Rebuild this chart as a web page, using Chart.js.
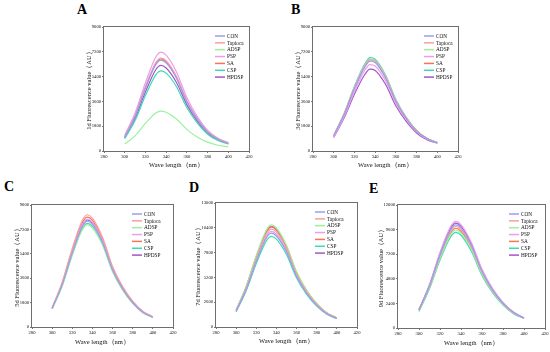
<!DOCTYPE html>
<html><head><meta charset="utf-8">
<script src="https://cdn.jsdelivr.net/npm/chart.js@4.4.1/dist/chart.umd.min.js"></script>
<style>
html,body{margin:0;padding:0;background:#fff;width:550px;height:352px;overflow:hidden;position:relative}
canvas{position:absolute}
.lbl{position:absolute;font:bold 14px 'Liberation Serif',serif;line-height:14px;color:#000}
</style></head><body>
<div class="lbl" style="left:77px;top:2.5px">A</div>
<div class="lbl" style="left:291px;top:2.5px">B</div>
<div class="lbl" style="left:4px;top:179.5px">C</div>
<div class="lbl" style="left:189px;top:180.5px">D</div>
<div class="lbl" style="left:369px;top:182px">E</div>
<script>
// ---------- data ----------
const wavelengths = [300, 310, 320, 330, 335, 340, 350, 360, 370, 380, 390, 400];
const seriesNames = ['CON', 'Tapioca', 'ADSP', 'PSP', 'SA', 'CSP', 'HPDSP'];
const xTicks = [280, 300, 320, 340, 360, 380, 400, 420];

// Day 1 (A)
const d1CON     = [1000, 2500, 4550, 6270, 6600, 6400, 5280, 3560, 2310, 1390, 860, 560];
const d1Tapioca = [1050, 2570, 4660, 6410, 6750, 6550, 5400, 3650, 2360, 1420, 880, 570];
const d1ADSP    = [510, 1100, 2000, 2760, 2900, 2810, 2320, 1570, 1020, 640, 420, 300];
const d1PSP     = [1160, 2760, 4950, 6820, 7180, 6960, 5740, 3880, 2510, 1510, 930, 610];
const d1SA      = [1020, 2530, 4610, 6350, 6680, 6480, 5340, 3610, 2340, 1400, 870, 570];
const d1CSP     = [900, 2210, 4020, 5530, 5820, 5650, 4660, 3140, 2040, 1220, 760, 500];
const d1HPDSP   = [950, 2360, 4280, 5900, 6210, 6020, 4970, 3350, 2170, 1300, 810, 530];
const yTicks1 = [0, 1800, 3600, 5400, 7200, 9000];

// Day 3 (B)
const d3CON     = [1100, 2620, 4520, 6090, 6520, 6420, 5300, 3600, 2360, 1440, 900, 590];
const d3Tapioca = [1110, 2660, 4590, 6180, 6620, 6520, 5390, 3660, 2390, 1460, 910, 600];
const d3ADSP    = [1120, 2680, 4620, 6230, 6670, 6570, 5430, 3690, 2410, 1470, 920, 600];
const d3PSP     = [1000, 2470, 4300, 5860, 6270, 6170, 5100, 3470, 2270, 1390, 870, 580];
const d3SA      = [1110, 2670, 4610, 6210, 6650, 6550, 5410, 3670, 2400, 1470, 910, 600];
const d3CSP     = [1130, 2720, 4690, 6320, 6770, 6660, 5510, 3740, 2450, 1500, 930, 610];
const d3HPDSP   = [990, 2390, 4120, 5550, 5940, 5850, 4840, 3280, 2150, 1310, 820, 560];
const yTicks3 = [0, 1800, 3600, 5400, 7200, 9000];

// Day 5 (C)
const d5CON     = [1370, 3120, 5460, 7410, 7800, 7570, 6240, 4210, 2810, 1790, 1090, 720];
const d5Tapioca = [1400, 3310, 5800, 7870, 8280, 8030, 6620, 4470, 2980, 1900, 1160, 750];
const d5ADSP    = [1350, 3020, 5290, 7170, 7550, 7320, 6040, 4080, 2720, 1740, 1060, 700];
const d5PSP     = [1380, 3180, 5570, 7550, 7950, 7710, 6360, 4290, 2860, 1830, 1110, 730];
const d5SA      = [1390, 3240, 5670, 7700, 8100, 7860, 6480, 4370, 2920, 1860, 1130, 740];
const d5CSP     = [1360, 3060, 5360, 7270, 7650, 7420, 6120, 4130, 2750, 1760, 1070, 710];
const d5HPDSP   = [1380, 3160, 5530, 7510, 7900, 7660, 6320, 4270, 2840, 1820, 1110, 730];
const yTicks5 = [0, 1800, 3600, 5400, 7200, 9000];

// Day 7 (D)
const d7CON     = [1660, 3940, 6890, 9350, 9840, 9540, 7870, 5310, 3540, 2260, 1380, 910];
const d7Tapioca = [1720, 4100, 7180, 9750, 10260, 9950, 8210, 5540, 3690, 2360, 1440, 930];
const d7ADSP    = [1780, 4280, 7490, 10170, 10700, 10380, 8560, 5780, 3850, 2460, 1500, 960];
const d7PSP     = [1690, 4010, 7010, 9520, 10020, 9720, 8020, 5410, 3610, 2300, 1400, 920];
const d7SA      = [1760, 4220, 7380, 10010, 10540, 10220, 8430, 5690, 3790, 2420, 1480, 950];
const d7CSP     = [1580, 3800, 6650, 9030, 9500, 9220, 7600, 5130, 3420, 2190, 1330, 880];
const d7HPDSP   = [1760, 4200, 7350, 9980, 10500, 10190, 8400, 5670, 3780, 2420, 1470, 950];
const yTicks7 = [0, 2600, 5200, 7800, 10400, 13000];

// Day 9 (E)
const d9CON     = [1790, 4120, 7140, 9560, 10060, 9760, 8050, 5530, 3720, 2410, 1510, 970];
const d9Tapioca = [1770, 4060, 7030, 9410, 9900, 9600, 7920, 5450, 3660, 2380, 1490, 960];
const d9ADSP    = [1720, 3920, 6790, 9080, 9560, 9270, 7650, 5260, 3540, 2290, 1430, 940];
const d9PSP     = [1820, 4260, 7380, 9880, 10400, 10090, 8320, 5720, 3850, 2500, 1560, 990];
const d9SA      = [1750, 3990, 6910, 9240, 9730, 9440, 7780, 5350, 3600, 2340, 1460, 950];
const d9CSP     = [1620, 3830, 6620, 8860, 9330, 9050, 7460, 5130, 3450, 2240, 1400, 920];
const d9HPDSP   = [1800, 4190, 7260, 9720, 10230, 9920, 8180, 5630, 3790, 2460, 1530, 980];
const yTicks9 = [0, 2400, 4800, 7200, 9600, 12000];

// ---------- styles ----------
const seriesColors = ['#9c9cf2', '#f7a0a0', '#9cf29c', '#eb9eeb', '#f97654', '#38deb2', '#a355c6'];
const FAM = "'Liberation Serif', 'Times New Roman', serif";
const TICK_SIZE = 4.6, TITLE_SIZE = 6.5, LEG_SIZE = 5.3;

const panels = [
  {title: '1d Fluorescence value（AU）', sets: [d1CON, d1Tapioca, d1ADSP, d1PSP, d1SA, d1CSP, d1HPDSP], yTicks: yTicks1,
   l: 104, t: 27, r: 249, b: 151, yOff: 15, xOff: 14, legR: 22},
  {title: '3d Fluorescence value（AU）', sets: [d3CON, d3Tapioca, d3ADSP, d3PSP, d3SA, d3CSP, d3HPDSP], yTicks: yTicks3,
   l: 313, t: 27, r: 458, b: 151, yOff: 15, xOff: 14.5, legR: 22},
  {title: '5d Fluorescence value（AU）', sets: [d5CON, d5Tapioca, d5ADSP, d5PSP, d5SA, d5CSP, d5HPDSP], yTicks: yTicks5,
   l: 32, t: 205, r: 173, b: 327, yOff: 15.5, xOff: 15.5, legR: 29},
  {title: '7d Fluorescence value（AU）', sets: [d7CON, d7Tapioca, d7ADSP, d7PSP, d7SA, d7CSP, d7HPDSP], yTicks: yTicks7,
   l: 216, t: 203, r: 357, b: 327, yOff: 18, xOff: 14, legR: 30},
  {title: '9d Fluorescence value（AU）', sets: [d9CON, d9Tapioca, d9ADSP, d9PSP, d9SA, d9CSP, d9HPDSP], yTicks: yTicks9,
   l: 398, t: 205, r: 545, b: 328, yOff: 17.5, xOff: 15, legR: 24}
];

const frameLegend = {
  id: 'frameLegend',
  afterDatasetsDraw(chart, args, opts) {
    const {ctx, chartArea: a} = chart;
    ctx.save();
    ctx.strokeStyle = '#6f6f6f';
    ctx.lineWidth = 1;
    ctx.strokeRect(Math.round(a.left) - 0.5, Math.round(a.top) - 0.5, Math.round(a.right - a.left) + 1, Math.round(a.bottom - a.top) + 1);
    const tx = a.right - opts.legR;
    ctx.font = LEG_SIZE + 'px ' + FAM;
    ctx.textBaseline = 'middle';
    ctx.textAlign = 'left';
    chart.data.datasets.forEach((ds, i) => {
      const y = a.top + 9 + i * 6.85;
      ctx.strokeStyle = ds.borderColor;
      ctx.lineWidth = 1.5;
      ctx.beginPath();
      ctx.moveTo(tx - 12, y);
      ctx.lineTo(tx - 2, y);
      ctx.stroke();
      ctx.fillStyle = '#111';
      ctx.fillText(ds.label, tx, y + 0.3);
    });
    ctx.restore();
  }
};

const PAD_TOP = 6, PAD_RIGHT = 8;
const lh = TITLE_SIZE * 1.2;

panels.forEach(p => {
  const left = Math.round(p.l - p.yOff - lh / 2);
  const top = p.t - PAD_TOP;
  const width = p.r + PAD_RIGHT - left;
  const height = Math.round(p.b + p.xOff + lh / 2 - top);
  const yW = p.l - left;
  const xH = height - (p.b - top);
  const cv = document.createElement('canvas');
  cv.width = width; cv.height = height;
  cv.style.left = left + 'px'; cv.style.top = top + 'px';
  cv.style.width = width + 'px'; cv.style.height = height + 'px';
  document.body.appendChild(cv);
  const yMax = p.yTicks[p.yTicks.length - 1];
  new Chart(cv, {
    type: 'line',
    data: {
      datasets: seriesNames.map((name, i) => ({
        label: name,
        data: wavelengths.map((w, j) => ({x: w, y: p.sets[i][j]})),
        borderColor: seriesColors[i],
        borderWidth: 1.2,
        pointRadius: 0,
        fill: false,
        cubicInterpolationMode: 'monotone'
      }))
    },
    options: {
      responsive: false, animation: false, devicePixelRatio: 1,
      layout: {padding: {left: 0, top: PAD_TOP, right: PAD_RIGHT, bottom: 0}},
      plugins: {legend: {display: false}, tooltip: {enabled: false}, frameLegend: {legR: p.legR}},
      scales: {
        x: {
          type: 'linear', min: 280, max: 420,
          afterBuildTicks: s => { s.ticks = xTicks.map(v => ({value: v})); },
          ticks: {font: {family: FAM, size: TICK_SIZE}, color: '#111', padding: 1, maxRotation: 0, autoSkip: false, callback: v => String(v)},
          grid: {drawOnChartArea: false, tickLength: 2, color: '#777'},
          border: {display: false},
          title: {display: true, text: 'Wave length（nm）', font: {family: FAM, size: TITLE_SIZE}, color: '#111', padding: 0},
          afterFit: s => { s.height = xH; }
        },
        y: {
          type: 'linear', min: 0, max: yMax,
          afterBuildTicks: s => { s.ticks = p.yTicks.map(v => ({value: v})); },
          ticks: {font: {family: FAM, size: TICK_SIZE}, color: '#111', padding: 1, autoSkip: false, callback: v => String(v)},
          grid: {drawOnChartArea: false, tickLength: 2, color: '#777'},
          border: {display: false},
          title: {display: true, text: p.title, font: {family: FAM, size: TITLE_SIZE}, color: '#111', padding: 0},
          afterFit: s => { s.width = yW; }
        }
      }
    },
    plugins: [frameLegend]
  });
});
</script>
</body></html>
